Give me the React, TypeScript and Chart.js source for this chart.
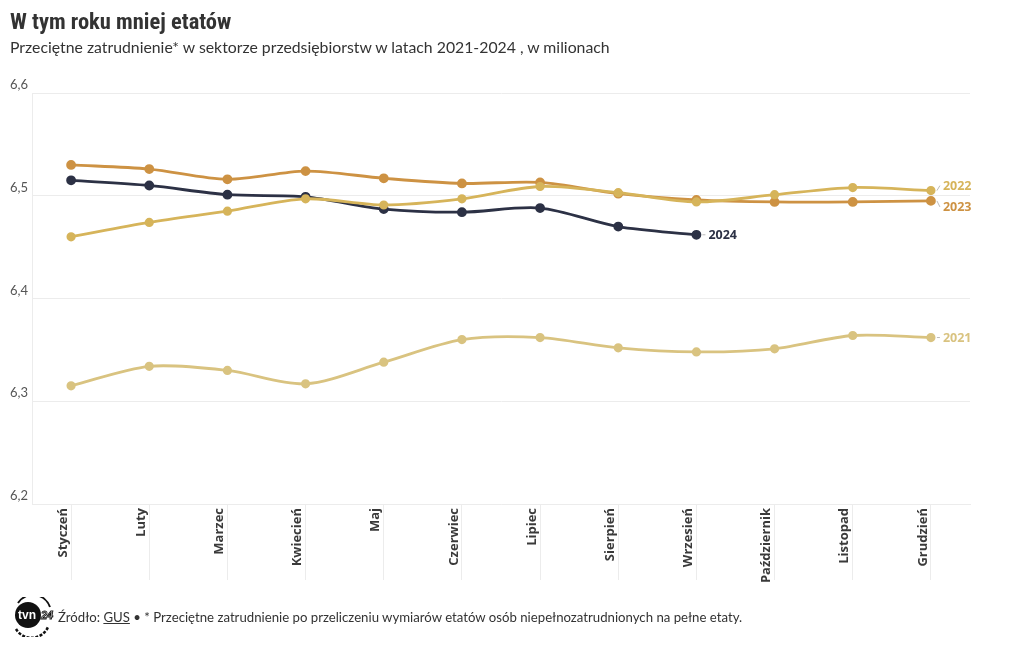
import React, { useEffect, useRef } from "react";
import { Chart, registerables } from "chart.js";

Chart.register(...registerables);

const months = ["Styczeń", "Luty", "Marzec", "Kwiecień", "Maj", "Czerwiec", "Lipiec", "Sierpień", "Wrzesień", "Październik", "Listopad", "Grudzień"];
const yTicks = [6.2, 6.3, 6.4, 6.5, 6.6];
const s2021 = [6.315, 6.334, 6.330, 6.317, 6.338, 6.360, 6.362, 6.352, 6.348, 6.351, 6.364, 6.362];
const s2022 = [6.460, 6.474, 6.485, 6.497, 6.491, 6.497, 6.509, 6.503, 6.494, 6.501, 6.508, 6.505];
const s2023 = [6.530, 6.526, 6.516, 6.524, 6.517, 6.512, 6.513, 6.502, 6.496, 6.494, 6.494, 6.495];
const s2024 = [6.515, 6.510, 6.501, 6.499, 6.487, 6.484, 6.488, 6.470, 6.462];

const C2021 = "#d9c380";
const C2022 = "#d6b45a";
const C2023 = "#cd9243";
const C2024 = "#2c3145";

const FONT = "'Source Sans Pro', Lato, 'Open Sans', sans-serif";

const labelPlugin = {
  id: "custom",
  afterDraw(chart: any) {
    const ctx = chart.ctx;
    const y = chart.scales.y;
    ctx.save();
    ctx.font = "13px Lato, sans-serif";
    ctx.fillStyle = "#555";
    ctx.textAlign = "left";
    ctx.textBaseline = "alphabetic";
    yTicks.forEach((v) => {
      const py = y.getPixelForValue(v);
      ctx.fillText(v.toFixed(1).replace(".", ","), 10, py - 4);
    });
    chart.data.datasets.forEach((ds: any, i: number) => {
      const meta = chart.getDatasetMeta(i);
      const last = meta.data[meta.data.length - 1];
      const px = last.x;
      const py = last.y;
      let ly = py;
      if (ds.label === "2022") ly = py - 5;
      if (ds.label === "2023") ly = py + 6;
      ctx.strokeStyle = "#bbb";
      ctx.lineWidth = 1;
      ctx.beginPath();
      ctx.moveTo(px + 6, py);
      ctx.lineTo(px + 9, ly);
      ctx.stroke();
      ctx.font = "bold 12.5px 'Open Sans', sans-serif";
      ctx.fillStyle = ds.borderColor;
      ctx.textBaseline = "middle";
      ctx.fillText(ds.label, px + 12, ly + 1);
    });
    ctx.restore();
  },
};

export default function App() {
  const ref = useRef<HTMLCanvasElement>(null);
  useEffect(() => {
    const mk = (label: string, data: number[], color: string, r: number) => ({
      label,
      data,
      borderColor: color,
      backgroundColor: color,
      pointBackgroundColor: color,
      pointBorderColor: color,
      pointRadius: r,
      pointHoverRadius: r,
      borderWidth: 2.8,
      tension: 0.3,
      fill: false,
    });
    const chart = new Chart(ref.current!, {
      type: "line",
      data: {
        labels: months,
        datasets: [
          mk("2021", s2021, C2021, 3.2),
          mk("2022", s2022, C2022, 3.2),
          mk("2023", s2023, C2023, 3.5),
          mk("2024", s2024, C2024, 3.5),
        ],
      },
      options: {
        animation: false,
        responsive: false,
        maintainAspectRatio: false,
        layout: { padding: { left: 32, top: 93, right: 50, bottom: 50 } },
        plugins: { legend: { display: false }, tooltip: { enabled: false } },
        scales: {
          x: {
            type: "category",
            offset: true,
            afterFit: (s: any) => { s.height = 96; },
            grid: { drawOnChartArea: false, drawTicks: true, tickLength: 76, color: "#ececec" },
            border: { display: true, color: "#ececec" },
            ticks: {
              autoSkip: false,
              maxRotation: 90,
              minRotation: 90,
              padding: -72,
              labelOffset: -8,
              color: "#3a3a3a",
              font: { family: "'Open Sans', sans-serif", weight: "bold", size: 13 },
            },
          },
          y: {
            min: 6.2,
            max: 6.6,
            afterFit: (s: any) => { s.width = 0; },
            ticks: { display: false, stepSize: 0.1 },
            grid: { color: "#ececec", drawTicks: false },
            border: { display: true, color: "#ececec" },
          },
        },
      },
      plugins: [labelPlugin],
    } as any);
    return () => chart.destroy();
  }, []);
  return (
    <div style={{ position: "absolute", left: 0, top: 0, width: 1020, height: 650, background: "#fff", overflow: "hidden" }}>
      <canvas ref={ref} width={1020} height={650} style={{ position: "absolute", left: 0, top: 0 }} />
      <div style={{ position: "absolute", left: 10, top: 8, fontFamily: "'Roboto Condensed', 'Liberation Sans Narrow', 'DejaVu Sans Condensed', sans-serif", fontStretch: "condensed", fontWeight: 700, fontSize: 22.5, color: "#333", whiteSpace: "nowrap" }}>
        W tym roku mniej etatów
      </div>
      <div style={{ position: "absolute", left: 10, top: 37, fontFamily: FONT, fontSize: 15.8, color: "#333", whiteSpace: "nowrap" }}>
        Przeciętne zatrudnienie* w sektorze przedsiębiorstw w latach 2021-2024 , w milionach
      </div>
      <svg style={{ position: "absolute", left: 10, top: 597 }} width={46} height={40} viewBox="0 0 46 40">
        <path d="M6 32 A18 18 0 0 0 38 30" stroke="#111" strokeWidth={2.5} fill="none" strokeDasharray="3 1.5" />
        <path d="M8 6 A18 18 0 0 1 40 10" stroke="#111" strokeWidth={2} fill="none" />
        <circle cx={18} cy={18} r={13} fill="#111" />
        <text x={17} y={22} textAnchor="middle" fill="#fff" fontFamily="Arial, sans-serif" fontWeight="bold" fontSize={12}>tvn</text>
        <text x={31} y={22} fill="#fff" stroke="#111" strokeWidth={0.9} fontFamily="Arial, sans-serif" fontWeight="bold" fontStyle="italic" fontSize={11}>24</text>
      </svg>
      <div style={{ position: "absolute", left: 58, top: 609, fontFamily: FONT, fontSize: 13.2, color: "#333", whiteSpace: "nowrap" }}>
        Źródło: <span style={{ textDecoration: "underline" }}>GUS</span> • * Przeciętne zatrudnienie po przeliczeniu wymiarów etatów osób niepełnozatrudnionych na pełne etaty.
      </div>
    </div>
  );
}
